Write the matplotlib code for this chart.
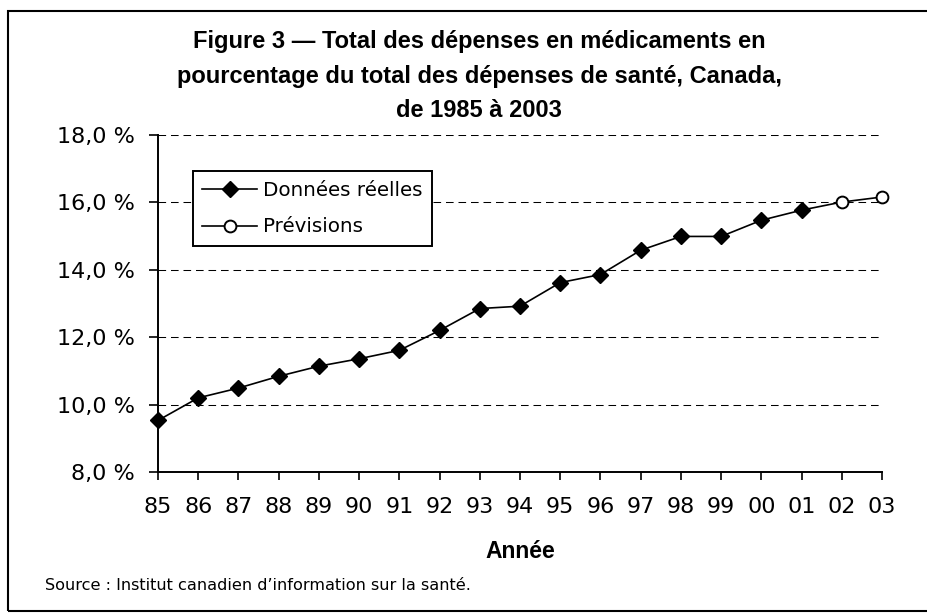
import numpy as np
import matplotlib.pyplot as plt
from matplotlib.lines import Line2D
from matplotlib.patches import Rectangle
from matplotlib.ticker import FuncFormatter

# Data
years = list(range(1985, 2004))
year_labels = [str(y)[2:] for y in years]
actual_years = list(range(1985, 2002))
actual = [9.53, 10.20, 10.49, 10.84, 11.14, 11.36, 11.61, 12.20, 12.85,
          12.92, 13.62, 13.86, 14.58, 14.99, 14.99, 15.47, 15.77]
forecast_years = [2002, 2003]
forecast = [16.01, 16.16]

title_lines = ['Figure 3 \u2014 Total des dépenses en médicaments en',
               'pourcentage du total des dépenses de santé, Canada,',
               'de 1985 à 2003']

W, H = 927, 614
fig = plt.figure(figsize=(W / 100, H / 100), dpi=100)
ax = fig.add_axes([158 / W, 1 - 472 / H, (882 - 158) / W, (472 - 135) / H])

tick_font = 'DejaVu Sans'

# line joining last actual point to the forecasts
ax.plot([actual_years[-1]] + forecast_years, [actual[-1]] + forecast,
        color='black', lw=1.2, clip_on=False, zorder=3)
ax.plot(actual_years, actual, color='black', lw=1.2, marker='D', ms=7.8,
        mfc='black', mec='black', clip_on=False, zorder=4)
ax.plot(forecast_years, forecast, ls='none', marker='o', ms=8.5, mfc='white',
        mec='black', mew=1.4, clip_on=False, zorder=5)

ax.set_xlim(1985, 2003)
ax.set_ylim(8, 18)
ax.set_xticks(years)
ax.set_xticklabels(year_labels)
ax.set_yticks(np.arange(8, 18.1, 2))
ax.yaxis.set_major_formatter(FuncFormatter(lambda v, p: f'{v:.1f}'.replace('.', ',') + ' %'))

for y in np.arange(10, 18.1, 2):
    ax.axhline(y, color='black', lw=0.75, ls=(0, (7.3, 4.7)), zorder=1)

for s in ['top', 'right']:
    ax.spines[s].set_visible(False)
for s in ['left', 'bottom']:
    ax.spines[s].set_linewidth(1.4)

ax.tick_params(axis='y', length=6.5, width=1.2, pad=10, labelsize=16)
ax.tick_params(axis='x', length=6, width=1.2, pad=12, labelsize=16)
for lab in ax.get_xticklabels() + ax.get_yticklabels():
    lab.set_family(tick_font)

handles = [
    Line2D([], [], color='black', lw=1.2, marker='D', ms=7.8, mfc='black'),
    Line2D([], [], color='black', lw=1.2, marker='o', ms=8.5, mfc='white', mew=1.4),
]
leg = ax.legend(handles, ['Données réelles', 'Prévisions'], loc='upper left',
                bbox_to_anchor=(0.048, 0.893), borderaxespad=0, fancybox=False,
                framealpha=1, edgecolor='black', handlelength=2.77,
                handletextpad=0.3, labelspacing=0.9, borderpad=0.48,
                prop={'family': tick_font, 'size': 14.3})
leg.get_frame().set_linewidth(1.4)

for txt, base in zip(title_lines, [48, 83, 117]):
    fig.text(479 / W, 1 - base / H, txt, ha='center', va='baseline', fontsize=17,
             fontweight='bold', family='Liberation Sans')

fig.text(520 / W, 1 - 558 / H, 'Année', ha='center', va='baseline',
         fontsize=16.5, fontweight='bold', family='Liberation Sans')
fig.text(45 / W, 1 - 590 / H, 'Source : Institut canadien d\u2019information sur la santé.',
         ha='left', va='baseline', fontsize=11.6, family=tick_font)

# frame round the figure (cut off at the right edge)
fig.add_artist(Rectangle((8 / W, 1 - 611 / H), 1.0, (611 - 10.5) / H,
                         transform=fig.transFigure, fill=False,
                         edgecolor='black', lw=1.5))

fig.savefig('out.png', dpi=100)
